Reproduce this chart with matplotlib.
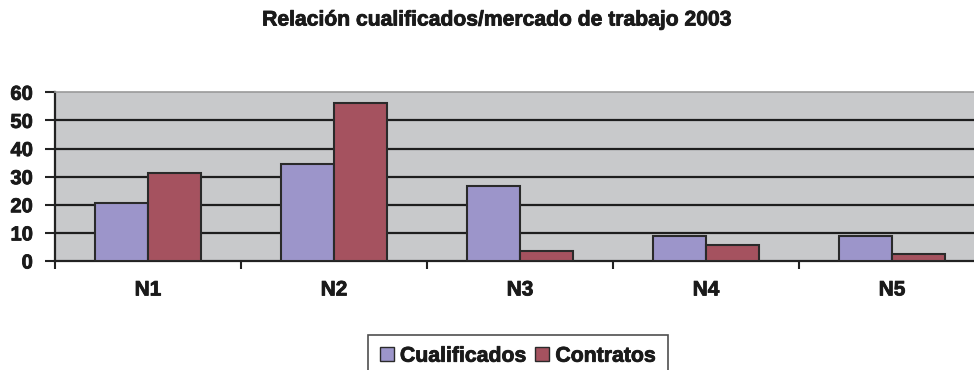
import matplotlib.pyplot as plt
import matplotlib.patheffects as pe
import numpy as np

plt.rcParams['font.family'] = ['Liberation Sans', 'DejaVu Sans']
plt.rcParams['font.weight'] = 'bold'

niveles = ['N1', 'N2', 'N3', 'N4', 'N5']
cualificados = [20.5, 34.4, 26.8, 9.0, 9.0]
contratos = [31.2, 56.3, 3.7, 5.8, 2.6]
y_ticks = [0, 10, 20, 30, 40, 50, 60]

heavy = [pe.withStroke(linewidth=0.6, foreground='#1a1a1a')]

fig = plt.figure(figsize=(9.74, 3.70), dpi=100)
ax = fig.add_axes([55 / 974, 109 / 370, 930 / 974, 168.7 / 370])
ax.set_facecolor('#c8c9cb')

x = np.arange(len(niveles))
w = 0.285
ax.bar(x - w / 2, cualificados, w, color='#9c95ca', edgecolor='#2a2a2a',
       linewidth=1.5, label='Cualificados', zorder=3)
ax.bar(x + w / 2, contratos, w, color='#a5525f', edgecolor='#2a2a2a',
       linewidth=1.5, label='Contratos', zorder=3)

ax.set_xlim(-0.5, len(niveles) - 0.5)
ax.set_ylim(0, 60)
ax.set_yticks(y_ticks)
ax.hlines(y_ticks[1:-1], -0.5, len(niveles) - 0.5, color='#1e1e1e',
          linewidth=1.6, zorder=1)

# category separators as major ticks, names as minor ticks
ax.set_xticks(np.arange(len(niveles) + 1) - 0.5)
ax.set_xticklabels([])
ax.set_xticks(x, minor=True)
ax.set_xticklabels(niveles, minor=True, fontsize=15, fontweight='bold')
ax.tick_params(axis='x', which='major', length=6, width=1.5, color='#222222')
ax.tick_params(axis='x', which='minor', length=0, pad=14)
ax.tick_params(axis='y', length=7, width=1.5, color='#222222', pad=9,
               labelsize=14.5)
for lab in ax.get_yticklabels() + ax.get_xticklabels(minor=True):
    lab.set_fontweight('bold')
    lab.set_color('#1a1a1a')
    lab.set_path_effects(heavy)

for s in ['left', 'bottom']:
    ax.spines[s].set_color('#222222')
    ax.spines[s].set_linewidth(1.6)
ax.spines['top'].set_color('#9a9a9a')
ax.spines['top'].set_linewidth(1.2)
ax.spines['right'].set_visible(False)

fig.text(497 / 974, 1 - 20 / 370, 'Relación cualificados/mercado de trabajo 2003',
         ha='center', va='center', fontsize=15.2, fontweight='bold',
         color='#1a1a1a', path_effects=heavy)

leg = fig.legend(loc='upper center', bbox_to_anchor=(518 / 974, 1 - 335 / 370),
                 ncol=2, frameon=True, fancybox=False, fontsize=15.3,
                 handlelength=0.65, handleheight=0.65, handletextpad=0.3,
                 columnspacing=0.4, borderpad=0.55, borderaxespad=0)
leg.get_frame().set_edgecolor('#222222')
leg.get_frame().set_linewidth(1.2)
for h in leg.legend_handles:
    h.set_linewidth(1.0)
for t in leg.get_texts():
    t.set_color('#1a1a1a')
    t.set_path_effects(heavy)

fig.savefig('out.png', dpi=100)
